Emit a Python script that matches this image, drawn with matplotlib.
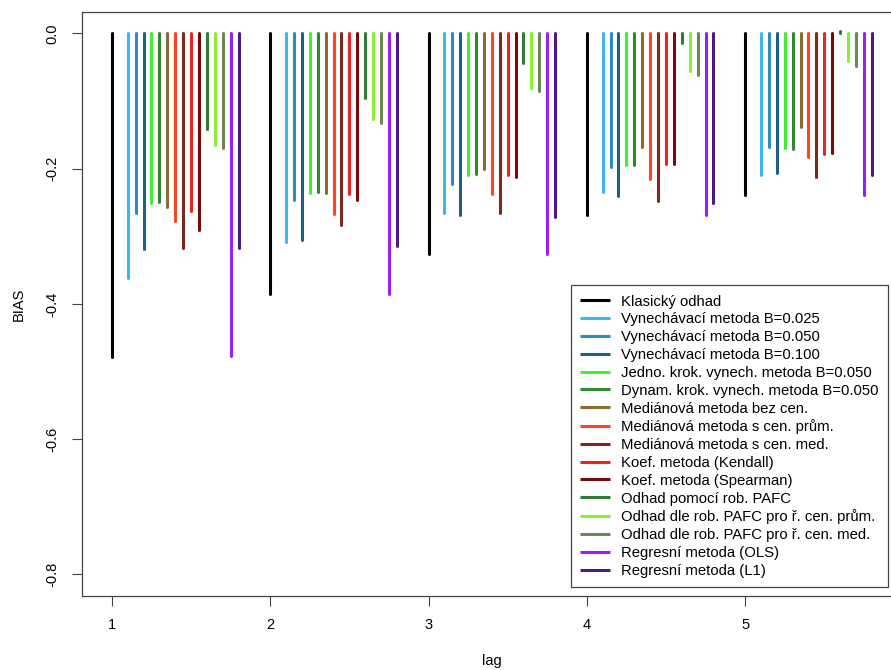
import numpy as np
import matplotlib.pyplot as plt

plt.rcParams['font.family'] = ['Liberation Sans', 'DejaVu Sans']

lags = [1, 2, 3, 4, 5]

methods = [
    'Klasický odhad',
    'Vynechávací metoda B=0.025',
    'Vynechávací metoda B=0.050',
    'Vynechávací metoda B=0.100',
    'Jedno. krok. vynech. metoda B=0.050',
    'Dynam. krok. vynech. metoda B=0.050',
    'Mediánová metoda bez cen.',
    'Mediánová metoda s cen. prům.',
    'Mediánová metoda s cen. med.',
    'Koef. metoda (Kendall)',
    'Koef. metoda (Spearman)',
    'Odhad pomocí rob. PAFC',
    'Odhad dle rob. PAFC pro ř. cen. prům.',
    'Odhad dle rob. PAFC pro ř. cen. med.',
    'Regresní metoda (OLS)',
    'Regresní metoda (L1)',
]

colors = ['#000000', '#3db8ec', '#2b8cc4', '#1f5f85', '#44ee33', '#2f8a2f',
          '#8b6b32', '#ff4422', '#7b2a1e', '#ee2222', '#7a0a0a', '#2e7d32',
          '#88f030', '#6b8752', '#9b1ff0', '#4a1a8a']

# bias per method, one value per lag (1..5)
bias = [
    [-0.478, -0.385, -0.326, -0.269, -0.239],
    [-0.362, -0.309, -0.266, -0.234, -0.209],
    [-0.265, -0.246, -0.222, -0.198, -0.168],
    [-0.319, -0.306, -0.268, -0.240, -0.206],
    [-0.251, -0.236, -0.210, -0.195, -0.170],
    [-0.250, -0.234, -0.208, -0.195, -0.171],
    [-0.257, -0.236, -0.200, -0.168, -0.139],
    [-0.277, -0.267, -0.238, -0.215, -0.183],
    [-0.317, -0.283, -0.265, -0.248, -0.213],
    [-0.262, -0.237, -0.209, -0.193, -0.179],
    [-0.291, -0.246, -0.213, -0.193, -0.177],
    [-0.141, -0.096, -0.044, -0.014, 0.004],
    [-0.165, -0.126, -0.080, -0.055, -0.041],
    [-0.170, -0.133, -0.085, -0.061, -0.048],
    [-0.477, -0.386, -0.326, -0.269, -0.239],
    [-0.318, -0.314, -0.272, -0.251, -0.209],
]

offsets = [0.0] + [0.1 + 0.05 * i for i in range(15)]

fig = plt.figure(figsize=(8.91, 6.70), dpi=100)
ax = fig.add_axes([0.0915, 0.1104, 0.921, 0.872])

x = np.array(lags, dtype=float)
for i in range(len(methods)):
    ax.vlines(x + offsets[i], 0, bias[i], colors=colors[i], lw=2.2,
              capstyle='round', label=methods[i])

ax.set_xlim(0.808, 5.992)
ax.set_ylim(-0.832, 0.032)
ax.set_xticks(lags)
ax.set_yticks([0.0, -0.2, -0.4, -0.6, -0.8])
ax.set_yticklabels(['0.0', '-0.2', '-0.4', '-0.6', '-0.8'], rotation=90, va='center')
ax.tick_params(labelsize=10.5, length=7, width=0.8, color='#444444', pad=9)
for s in ax.spines.values():
    s.set_color('#444444')
    s.set_linewidth(0.9)
ax.set_xlabel('lag', fontsize=10.5, labelpad=16)
ax.set_ylabel('BIAS', fontsize=10.5, labelpad=14)

leg = ax.legend(loc='lower right', bbox_to_anchor=(888 / 891, 1 - 587 / 670),
                bbox_transform=fig.transFigure, borderaxespad=0,
                fontsize=10.75, handlelength=2.0, handletextpad=0.75,
                labelspacing=0.255, borderpad=0.62,
                fancybox=False, framealpha=1)
leg.get_frame().set_edgecolor('#444444')
leg.get_frame().set_linewidth(0.9)

fig.savefig('out.png', dpi=100)
